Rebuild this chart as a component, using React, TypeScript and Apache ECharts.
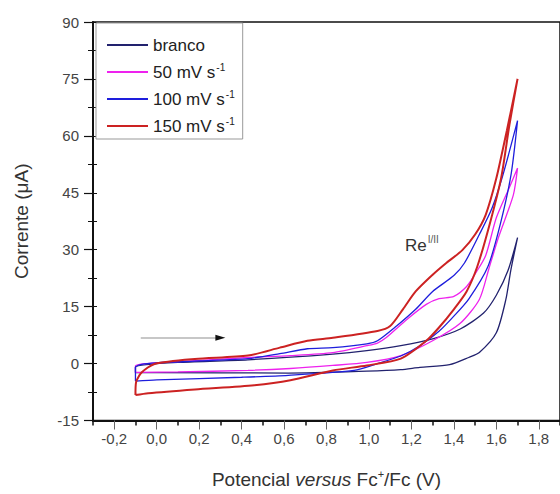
import React, { useEffect, useRef } from "react";
import * as echarts from "echarts";

// Cyclic voltammograms: [potential (V vs Fc+/Fc), current (µA)], closed loops
const seriesNames = ["branco", "50 mV s-1", "100 mV s-1", "150 mV s-1"];
const seriesColors = ["#22226e", "#ee22ee", "#1e1edc", "#cc2222"];

const branco: number[][] = [
  [-0.10, -2.4], [-0.10, -1.0], [-0.05, -0.3], [0.10, 0.3], [0.43, 1.0], [0.83, 2.5],
  [0.99, 3.4], [1.15, 4.7], [1.30, 6.5], [1.43, 9.1], [1.54, 13.3], [1.60, 18.0],
  [1.655, 24.5], [1.70, 33.2],
  [1.668, 24.5], [1.645, 16.9], [1.60, 8.1], [1.52, 2.9], [1.47, 1.6], [1.38, -0.3],
  [1.24, -1.0], [1.15, -1.6], [0.99, -2.0], [0.62, -2.5], [0.0, -2.4], [-0.10, -2.4],
];

const mv50: number[][] = [
  [-0.10, -2.3], [-0.10, -0.6], [-0.05, 0.0], [0.10, 0.5], [0.43, 1.6], [0.63, 2.1],
  [0.83, 2.9], [0.99, 4.7], [1.04, 5.4], [1.08, 6.8], [1.18, 11.7], [1.27, 15.6],
  [1.33, 17.1], [1.40, 17.7], [1.46, 20.3], [1.50, 23.6], [1.55, 28.5], [1.60, 38.4],
  [1.66, 46.2], [1.70, 51.5],
  [1.68, 44.4], [1.61, 33.2], [1.565, 25.0], [1.52, 16.9], [1.43, 10.6], [1.30, 6.0],
  [1.15, 2.1], [0.99, 0.3], [0.83, -0.5], [0.63, -1.3], [0.43, -1.8], [0.10, -2.2],
  [-0.10, -2.3],
];

const mv100: number[][] = [
  [-0.10, -4.6], [-0.10, -1.0], [-0.07, -0.2], [0.0, 0.2], [0.20, 0.7], [0.43, 1.3],
  [0.58, 2.6], [0.71, 3.9], [0.83, 4.2], [0.99, 5.2], [1.04, 6.0], [1.13, 9.9],
  [1.22, 14.3], [1.30, 19.0], [1.40, 23.2], [1.45, 26.5], [1.52, 34.0], [1.58, 41.0],
  [1.63, 49.5], [1.70, 64.0],
  [1.67, 50.0], [1.62, 37.0], [1.56, 25.5], [1.47, 17.0], [1.40, 12.5], [1.33, 8.5],
  [1.24, 4.7], [1.15, 2.0], [1.04, 0.0], [0.93, -1.8], [0.62, -3.1], [0.40, -3.6],
  [0.0, -4.3], [-0.10, -4.6],
];

const mv150: number[][] = [
  [-0.10, -8.3], [-0.097, -4.9], [-0.07, -2.3], [-0.01, -0.1], [0.18, 1.2], [0.43, 2.1],
  [0.58, 4.2], [0.71, 6.0], [0.83, 6.8], [1.04, 8.6], [1.10, 9.9], [1.16, 14.3],
  [1.22, 19.0], [1.30, 23.4], [1.36, 26.3], [1.44, 29.9], [1.50, 34.0], [1.55, 39.2],
  [1.60, 48.8], [1.65, 61.5], [1.70, 75.0],
  [1.662, 63.0], [1.623, 49.0], [1.57, 37.0], [1.51, 25.5], [1.46, 19.0], [1.40, 14.3],
  [1.33, 9.5], [1.27, 6.0], [1.15, 1.3], [0.99, -0.5], [0.83, -1.8], [0.63, -4.4],
  [0.46, -5.7], [0.18, -6.8], [-0.04, -7.8], [-0.10, -8.3],
];

const seriesData = [branco, mv50, mv100, mv150];
const seriesWidths = [1.3, 1.3, 1.3, 2];

// annotations (data coordinates)
const arrowStart = [-0.075, 6.8];
const arrowEnd = [0.28, 6.8];
const arrowHead = [0.30, 6.8];
const reLabelAt = [1.163, 31.0];

const X_MIN = -0.3;
const X_MAX = 1.9;
const Y_MIN = -15;
const Y_MAX = 90;
const Y_STEP = 15;

const FONT = "'Liberation Sans', Arial, sans-serif";

export default function App() {
  const ref = useRef<HTMLDivElement>(null);
  useEffect(() => {
    if (!ref.current) return;
    const chart = echarts.init(ref.current, null, { renderer: "svg" });
    const series: any[] = seriesNames.map((name, i) => ({
      name,
      type: "line",
      xAxisIndex: 0,
      yAxisIndex: 0,
      data: seriesData[i],
      showSymbol: false,
      symbol: "none",
      smooth: 0.25,
      lineStyle: { color: seriesColors[i], width: seriesWidths[i] },
      itemStyle: { color: seriesColors[i] },
      z: 2 + i,
    }));
    series[3].markLine = {
      silent: true,
      symbol: ["none", "none"],
      label: { show: false },
      lineStyle: { color: "#b5b5b5", width: 1.5, type: "solid" },
      data: [[{ coord: arrowStart }, { coord: arrowEnd }]],
    };
    series[3].markPoint = {
      silent: true,
      data: [
        {
          coord: arrowHead,
          symbol: "triangle",
          symbolSize: [6, 10],
          symbolRotate: -90,
          itemStyle: { color: "#111" },
          label: { show: false },
        },
        {
          coord: reLabelAt,
          symbol: "circle",
          symbolSize: 1,
          itemStyle: { color: "rgba(0,0,0,0)" },
          label: {
            show: true,
            position: "right",
            distance: 1,
            formatter: "{a|Re}{b|I/II}",
            rich: {
              a: { fontSize: 17, color: "#333", fontFamily: FONT },
              b: { fontSize: 10, color: "#555", fontFamily: FONT, padding: [0, 0, 12, 1] },
            },
          },
        },
      ],
    };

    const option: any = {
      animation: false,
      backgroundColor: "#fff",
      grid: {
        left: 93,
        top: 22,
        right: -5,
        bottom: 67,
        show: true,
        borderColor: "#111",
        borderWidth: 1.5,
        backgroundColor: "transparent",
      },
      legend: {
        data: seriesNames,
        orient: "vertical",
        left: 96,
        top: 23,
        backgroundColor: "#fff",
        borderColor: "#999",
        borderWidth: 1,
        padding: [13, 8, 4, 11],
        icon: "rect",
        itemWidth: 41,
        itemHeight: 2,
        itemGap: 8.5,
        selectedMode: false,
        formatter: (name: string) => name.replace("s-1", "s{sup|-1}"),
        textStyle: {
          fontSize: 17,
          color: "#222",
          fontFamily: FONT,
          lineHeight: 18,
          rich: {
            sup: { fontSize: 10, color: "#222", fontFamily: FONT, padding: [0, 0, 9, 1] },
          },
        },
      },
      xAxis: [
        {
          // ticks: odd tenths from min (short), minor ticks at even tenths (long)
          type: "value",
          min: X_MIN,
          max: X_MAX,
          interval: 0.2,
          position: "bottom",
          axisLine: { onZero: false, lineStyle: { color: "#111", width: 2 } },
          axisTick: { show: true, inside: false, length: 5, lineStyle: { color: "#111", width: 1.5 } },
          minorTick: { show: true, splitNumber: 2, length: 9, lineStyle: { color: "#666", width: 1 } },
          splitLine: { show: false },
          minorSplitLine: { show: false },
          axisLabel: { show: false },
          name: "{n|Potencial }{i|versus}{n| Fc}{s|+}{n|/Fc (V)}",
          nameLocation: "middle",
          nameGap: 48,
          nameTextStyle: {
            rich: {
              n: { fontSize: 19, color: "#333", fontFamily: FONT },
              i: { fontSize: 19, color: "#333", fontFamily: FONT, fontStyle: "italic" },
              s: { fontSize: 11, color: "#333", fontFamily: FONT, padding: [0, 0, 11, 0] },
            },
          },
        },
        {
          // labels at even tenths
          type: "value",
          min: X_MIN,
          max: X_MAX,
          interval: 0.1,
          position: "bottom",
          axisLine: { show: false, onZero: false },
          axisTick: { show: false },
          splitLine: { show: false },
          axisLabel: {
            margin: 10,
            fontSize: 15,
            color: "#444",
            fontFamily: FONT,
            showMinLabel: false,
            showMaxLabel: false,
            formatter: (v: number) => {
              const k = Math.round(v * 10);
              if (k % 2 !== 0) return "";
              return (k / 10).toFixed(1).replace(".", ",");
            },
          },
        },
      ],
      yAxis: [
        {
          type: "value",
          min: Y_MIN,
          max: Y_MAX,
          interval: Y_STEP,
          position: "left",
          axisLine: { show: true, onZero: false, lineStyle: { color: "#111", width: 2 } },
          axisTick: { show: true, inside: false, length: 9, lineStyle: { color: "#111", width: 1.2 } },
          minorTick: { show: true, splitNumber: 2, length: 5, lineStyle: { color: "#111", width: 1 } },
          splitLine: { show: false },
          minorSplitLine: { show: false },
          axisLabel: {
            margin: 14,
            fontSize: 15,
            color: "#444",
            fontFamily: FONT,
          },
          name: "Corrente (μA)",
          nameLocation: "middle",
          nameGap: 62,
          nameTextStyle: { fontSize: 19, color: "#333", fontFamily: FONT },
        },
        {
          type: "value",
          min: Y_MIN,
          max: Y_MAX,
          interval: Y_STEP,
          position: "left",
          axisLine: { show: false, onZero: false },
          axisTick: { show: true, inside: true, length: 4, lineStyle: { color: "#111", width: 1 } },
          minorTick: { show: true, splitNumber: 2, length: 4, lineStyle: { color: "#111", width: 1 } },
          splitLine: { show: false },
          axisLabel: { show: false },
        },
      ],
      series,
    };
    chart.setOption(option);
    return () => chart.dispose();
  }, []);
  return (
    <div
      ref={ref}
      style={{ position: "absolute", left: 0, top: 0, width: 560, height: 494, overflow: "hidden" }}
    />
  );
}
